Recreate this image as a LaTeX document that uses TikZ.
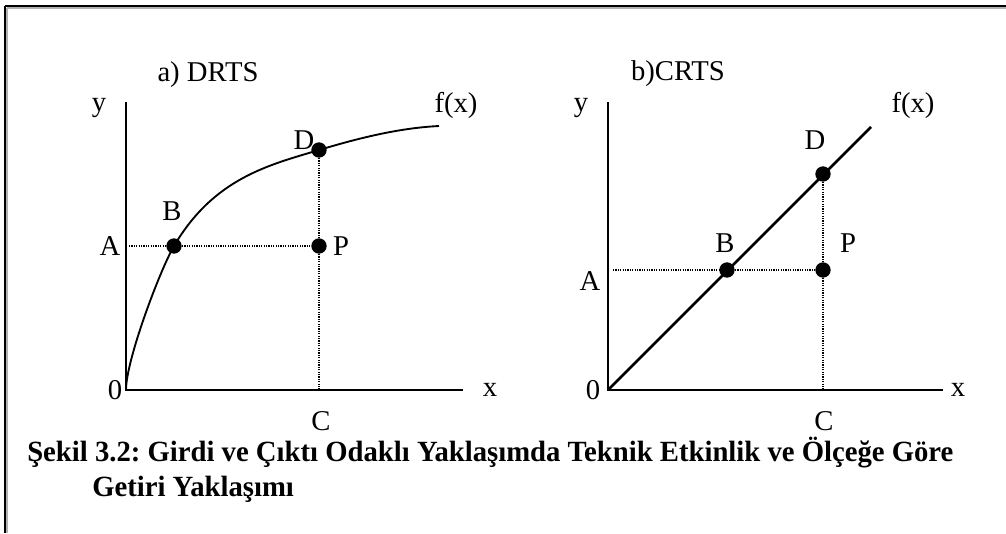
\documentclass[tikz,border=0pt]{standalone}
\usepackage{fontspec}
\setmainfont{Liberation Serif}
\frenchspacing
\begin{document}
\begin{tikzpicture}[x=0.75pt,y=-0.75pt,
  lbl/.style={inner sep=0pt,font=\fontsize{21.5}{26}\selectfont},
  dot/.style={circle,fill=black,inner sep=0pt,minimum size=11.5pt},
  axis/.style={line width=1.5pt},
  guide/.style={line width=0.8pt,dash pattern=on 0.9pt off 0.9pt},
  captext/.style={inner sep=0pt,anchor=base west,font=\bfseries\fontsize{22}{26}\selectfont}]
\useasboundingbox (0,0) rectangle (1006,533);
% frame
\draw[gray!60,line width=1pt] (7,8) -- (1006,8);
\draw[gray!60,line width=1pt] (7,8) -- (7,533);
\draw[line width=1.5pt] (5,6) -- (1006,6);
\draw[line width=1.5pt] (5,6) -- (5,533);
% ---- left panel
\coordinate (o1) at (126,390);
\coordinate (ytop1) at (126,102);
\coordinate (xend1) at (463,390);
\coordinate (ha1) at (129,246);
\coordinate (c1) at (319,390);
\coordinate (e1) at (439,126);
\node[dot] (b1) at (174,246) {};
\node[dot] (d1) at (319,150) {};
\node[dot] (p1) at (319,246) {};
\draw[axis] (ytop1) -- (o1) -- (xend1);
\draw[line width=1.4pt] (o1) .. controls (126,360) and (160,270) .. (b1.center)
  .. controls (214,178) and (269,165) .. (d1.center)
  .. controls (359,138) and (399,128) .. (e1);
\draw[guide] (ha1) -- (b1) -- (p1);
\draw[guide] (d1) -- (p1) -- (c1);
\node[lbl] at (208,75) {a) DRTS};
\node[lbl] at (99,108) {y};
\node[lbl] at (456,105) {f(x)};
\node[lbl] at (172,211) {B};
\node[lbl] at (304,140) {D};
\node[lbl] at (110,246) {A};
\node[lbl] at (341,246) {P};
\node[lbl] at (115,390) {0};
\node[lbl] at (490,390) {x};
\node[lbl] at (321,421) {C};
% ---- right panel
\coordinate (o2) at (608,390);
\coordinate (ytop2) at (608,102);
\coordinate (xend2) at (943,390);
\coordinate (fend2) at (871,127);
\coordinate (ha2) at (613,270);
\coordinate (c2) at (823,390);
\draw[axis] (ytop2) -- (o2) -- (xend2);
\draw[line width=2pt] (o2) -- (fend2);
\node[dot] (b2) at (727,270) {};
\node[dot] (d2) at (823,174) {};
\node[dot] (p2) at (823,270) {};
\draw[guide] (ha2) -- (b2) -- (p2);
\draw[guide] (d2) -- (p2) -- (c2);
\node[lbl] at (678,74) {b)CRTS};
\node[lbl] at (581,108) {y};
\node[lbl] at (913,105) {f(x)};
\node[lbl] at (725,243) {B};
\node[lbl] at (815,140) {D};
\node[lbl] at (590,281) {A};
\node[lbl] at (848,243) {P};
\node[lbl] at (593,390) {0};
\node[lbl] at (958,390) {x};
\node[lbl] at (824,421) {C};
% caption
\node[captext] (cap1) at (27,461) {\scalebox{0.978}[1]{Şekil 3.2: Girdi ve Çıktı Odaklı Yaklaşımda Teknik Etkinlik ve Ölçeğe Göre}};
\node[captext] (cap2) at (92,496) {\scalebox{0.978}[1]{Getiri Yaklaşımı}};
\end{tikzpicture}
\end{document}
